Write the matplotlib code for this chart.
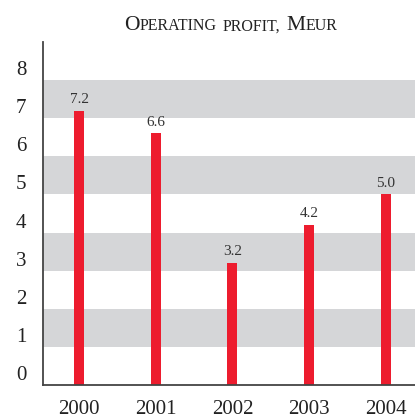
"""
Operating profit bar chart, 2000-2004
"""

import matplotlib
matplotlib.use('Agg')
import matplotlib.pyplot as plt

years = ['2000', '2001', '2002', '2003', '2004']
profit = [7.2, 6.6, 3.2, 4.2, 5.0]
y_ticks = [0, 1, 2, 3, 4, 5, 6, 7, 8]
title_text = 'Operating profit, Meur'

RED = '#ed1c2e'
BAND = '#d5d6d8'
AXIS = '#444444'

plt.rcParams['font.family'] = ['Liberation Serif', 'DejaVu Serif']


def small_caps_title(fig, text, y_px, x_center_px, big=15.5, small=11.5, gap=6):
    # matplotlib has no small caps, so build it from upper case runs
    runs = []
    for word in text.split(' '):
        cur = ''
        cur_big = None
        for ch in word:
            is_big = ch.isupper()
            if cur and is_big != cur_big:
                runs.append((cur, cur_big, False))
                cur = ''
            cur += ch.upper()
            cur_big = is_big
        runs.append((cur, cur_big, True))
    renderer = fig.canvas.get_renderer()
    items = []
    total = 0
    for s, is_big, word_end in runs:
        t = fig.text(0, 0, s, fontsize=big if is_big else small,
                     color='#222222', transform=None, va='baseline')
        w = t.get_window_extent(renderer).width
        items.append((t, w, word_end))
        total += w + (gap if word_end else 0)
    total -= gap
    x = x_center_px - total / 2
    for t, w, word_end in items:
        t.set_position((x, y_px))
        x += w + (gap if word_end else 0)


def create_chart():
    fig = plt.figure(figsize=(4.15, 4.18), dpi=100)
    ax = fig.add_axes([0.1036, 0.079, 0.8964, 0.8206])

    positions = range(len(years))
    # grey bands behind every second unit
    for lo in y_ticks[1:-1:2]:
        ax.axhspan(lo, lo + 1, color=BAND, lw=0, zorder=0)

    ax.bar(positions, profit, width=0.13, color=RED, zorder=2)
    for x, v in zip(positions, profit):
        ax.annotate(f'{v:.1f}', (x, v), xytext=(0, 3.5),
                    textcoords='offset points', ha='center', va='bottom',
                    fontsize=11, color='#333333')

    ax.set_xlim(-0.47, 4.38)
    ax.set_ylim(0, 9)
    ax.set_xticks(list(positions))
    ax.set_xticklabels(years, fontsize=15, color='#222222')
    ax.set_yticks(y_ticks)
    ax.set_yticklabels([str(t) for t in y_ticks], fontsize=15,
                       color='#222222')
    for lab in ax.get_yticklabels():
        lab.set_va('bottom')
    ax.tick_params(axis='x', length=0, pad=11)
    ax.tick_params(axis='y', length=0, pad=12)

    for side in ('top', 'right'):
        ax.spines[side].set_visible(False)
    for side in ('left', 'bottom'):
        ax.spines[side].set_color(AXIS)
        ax.spines[side].set_linewidth(1.3)
        ax.spines[side].set_zorder(3)

    small_caps_title(fig, title_text, 418 - 30.5, 231)
    fig.savefig('out.png', dpi=100)


if __name__ == '__main__':
    create_chart()
